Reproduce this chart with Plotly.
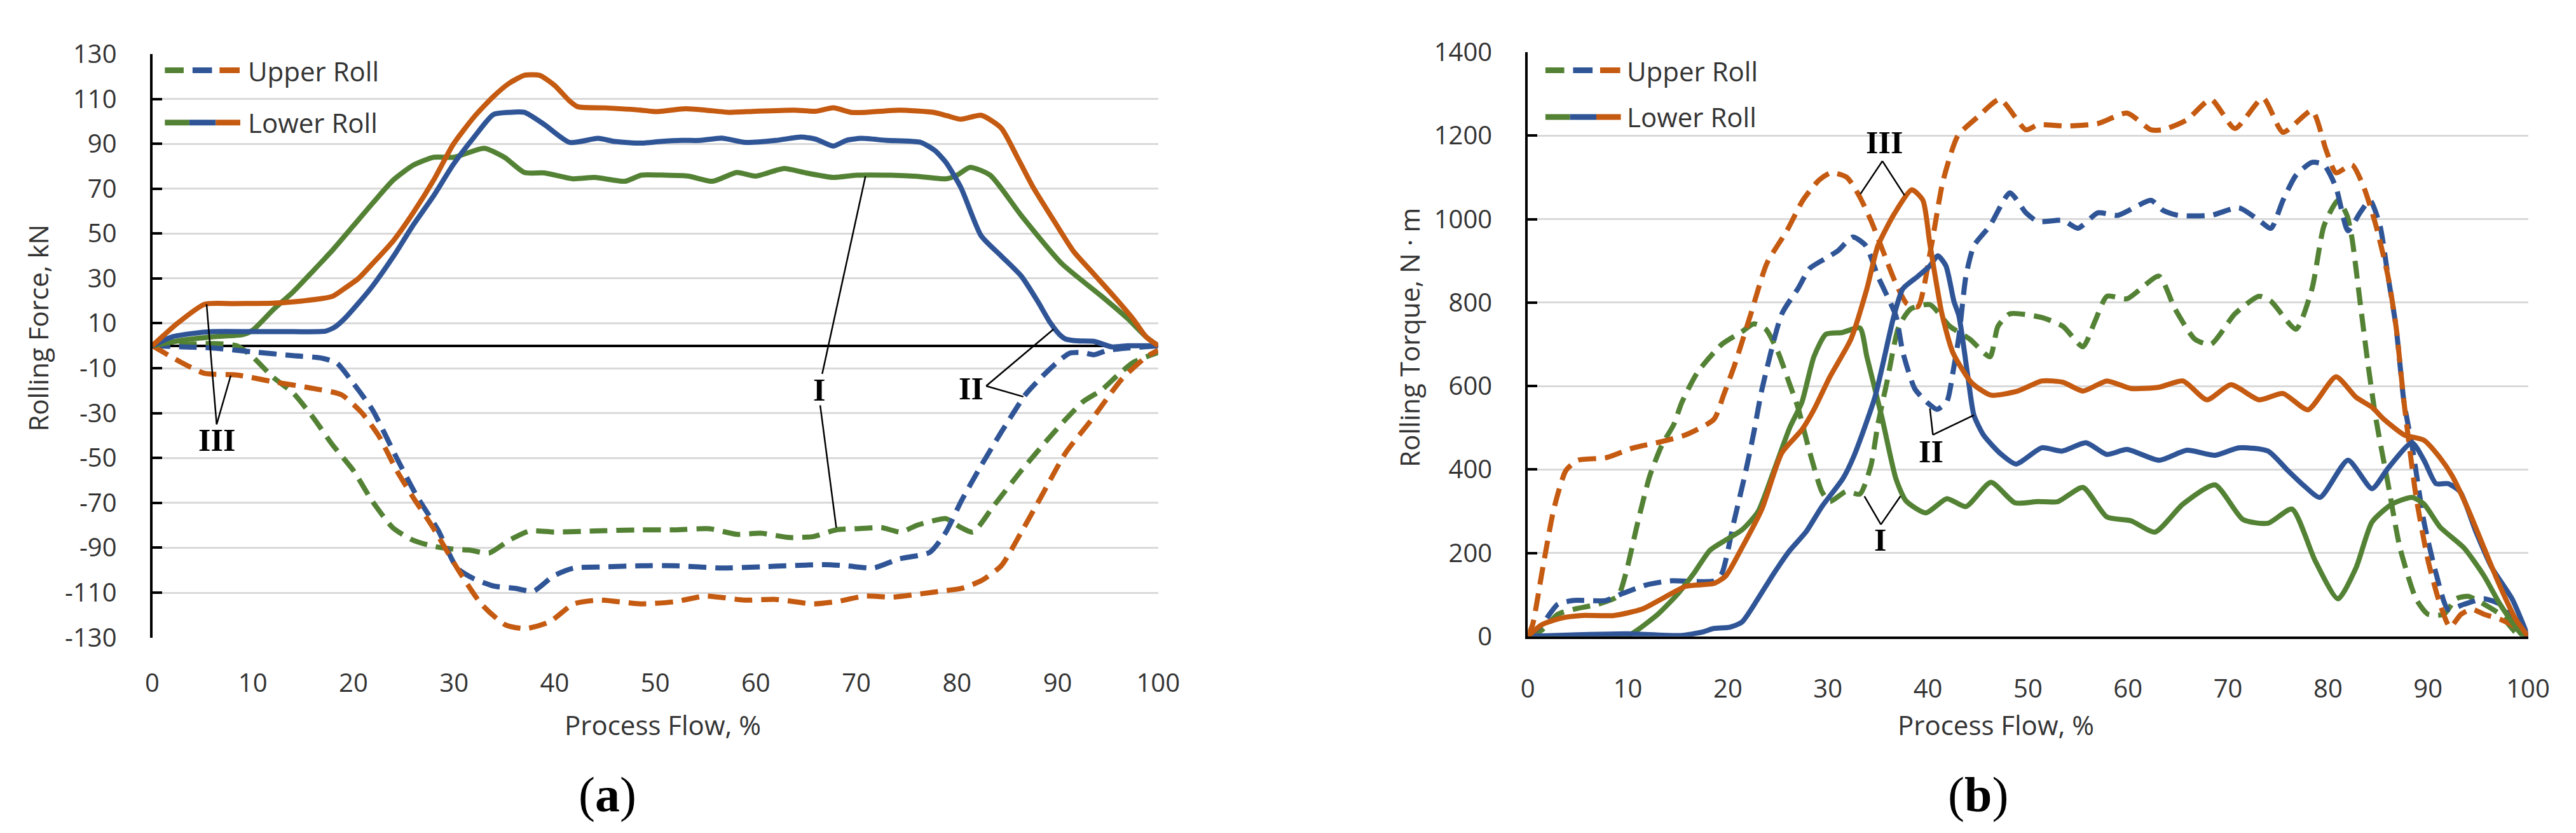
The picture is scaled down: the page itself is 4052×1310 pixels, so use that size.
import plotly.graph_objects as go

W, H = 4052, 1310

# ---------------- Panel (a): Rolling Force, kN ----------------
fa_up_green_x = [0, 3, 5.8, 8.4, 10, 12, 14, 16, 17.9, 20, 21.9, 23.9, 25.9, 27.9, 29.9, 31.5, 33.5, 35.5, 37.5, 40, 44, 48.6, 52, 55.4, 58.1, 60.5, 63.3, 65.7, 68, 70, 72.5, 74.4, 76, 77.6, 78.9, 80.4, 81.6, 83.6, 86.4, 89.2, 90.8, 92.5, 94.4, 96, 97.6, 100]
fa_up_green_y = [0, 0.5, 1, 0, -5, -14, -21, -32, -44, -55.6, -69.4, -81, -86.6, -89.3, -90.6, -91, -92.3, -86.6, -82.5, -83, -82.5, -82, -82, -81.5, -84, -83.5, -85.4, -85, -82, -81.5, -81, -83, -80, -78, -77, -81, -83, -71.6, -55.6, -40.8, -32.8, -25, -19.6, -13, -7.2, -3]

fa_up_blue_x = [0, 3, 6, 10, 14, 16.75, 18.35, 19.9, 21.9, 24.3, 26.3, 28.4, 30.3, 31.9, 33.9, 36, 37.9, 39.9, 41.9, 45, 48.6, 52, 56.6, 60.6, 63, 66.9, 69, 71.7, 74.2, 77.3, 78.9, 80.4, 82.4, 84.4, 85.2, 86.8, 88.4, 90, 91.2, 92.5, 93.6, 95, 97, 100]
fa_up_blue_y = [0, -0.5, -1, -2.7, -4.4, -5.4, -7.7, -16.2, -28.6, -50, -67, -82, -99, -103.6, -107, -108, -109.3, -102.5, -99, -98.5, -98, -98, -99, -98.5, -98, -97.5, -98, -99, -95, -92, -83, -69.4, -53.4, -38.5, -32.8, -21.8, -14, -7.2, -3.3, -3, -4, -2, -1, 0]

fa_up_orange_x = [0, 2.8, 5.2, 8.4, 12, 16, 18.8, 20.8, 22.5, 24.3, 26, 27.9, 30.3, 32.7, 35.1, 37.1, 39.5, 41.9, 44.4, 48.6, 52, 55, 58.9, 62, 65.7, 68, 70.9, 73.5, 76.4, 79, 80.5, 82.4, 84.4, 86.4, 88.4, 90.8, 93.4, 96.4, 98.8, 100]
fa_up_orange_y = [0, -7.2, -12.3, -13, -16, -19, -21.8, -29.7, -40, -55.6, -68, -80.9, -99, -115, -124.3, -126, -123, -115, -113.3, -115, -114, -111.5, -113.3, -113, -115, -114, -111.5, -112, -110.5, -109, -108, -104.7, -98, -83, -67, -47.7, -32.8, -14.8, -5, -2]

fa_low_green_x = [0, 3, 6, 9, 10, 12, 14, 16, 18, 20, 22, 24, 26, 28, 30, 33, 35, 37, 39, 41.8, 44, 47, 48.6, 51, 53.3, 55.7, 58.1, 60, 62.8, 65, 67.7, 70, 73.4, 76, 78.9, 80, 81.3, 83.3, 86.4, 90.4, 94.4, 97, 98.8, 100]
fa_low_green_y = [0, 2.5, 4, 5, 7, 16, 24, 33.4, 43, 53.5, 64, 74, 80.6, 84, 84, 88, 84, 77.2, 77, 74.4, 75, 73.3, 76, 76, 75.6, 73.3, 77.2, 75.6, 79, 77, 75, 76, 76, 75.5, 74.4, 76, 79.5, 76, 58, 36.7, 22, 12, 4, 0]

fa_low_blue_x = [0, 2, 4, 6, 10, 14, 17.2, 18.2, 19.1, 20.5, 21.9, 24, 25.9, 28, 29.9, 32, 33.9, 35.5, 37, 39, 41.5, 44.3, 46, 48.6, 50.5, 52.6, 54.5, 56.6, 59, 62, 64.5, 66, 67.7, 69, 70.5, 73, 76.4, 77.8, 78.9, 80.4, 82.4, 84.4, 86.4, 88, 89.2, 90.2, 90.8, 92, 93.6, 95.4, 97, 100]
fa_low_blue_y = [0, 4, 5.5, 6.3, 6.3, 6.3, 6.5, 8.5, 12, 19, 26.6, 40, 53.5, 67, 80.6, 93, 103, 104, 104, 98.5, 90.6, 92.4, 91, 90.3, 91, 91.5, 91.5, 92.5, 90.6, 91.5, 93, 92, 89, 91.5, 92.4, 91.5, 90.6, 87, 81.7, 70.4, 49, 40, 31, 20, 10.8, 5, 3, 2.2, 2, -0.5, 0, 0]

fa_low_orange_x = [0, 2.5, 5.2, 8, 12, 15, 17.9, 19.1, 20.5, 21.9, 24, 25.9, 28, 29.9, 32, 33.9, 35.5, 37, 38.5, 40, 41.5, 42.3, 45, 48.6, 50.1, 53, 55, 57.4, 60, 63.8, 66, 67.7, 69.5, 70.9, 74.2, 77.7, 79, 80.4, 82.4, 84.4, 86, 87.6, 89.6, 91.6, 93.6, 95.6, 97.5, 98.8, 100]
fa_low_orange_y = [0, 10, 18.5, 18.8, 19, 20, 22, 25.5, 30, 36.6, 47, 59, 74, 89.6, 102, 111, 117, 120.5, 120.5, 116, 109, 106.5, 106, 105, 104.3, 105.6, 105, 104, 104.5, 105, 104.5, 106, 104, 104, 105, 104, 102.5, 100.9, 102.7, 97, 84, 70.4, 56, 42, 32, 22, 12, 4, 0]

# ---------------- Panel (b): Rolling Torque, N·m ----------------
tb_up_green_x = [0, 1.4, 3, 4.6, 7, 9, 9.8, 11, 12.2, 13.4, 14.6, 15.4, 17, 19.4, 21.4, 22.6, 23.8, 25, 26.2, 27, 28.2, 29.4, 30.2, 31.8, 33.2, 34.3, 35, 35.9, 37.1, 38.3, 40.2, 42.2, 44.2, 46.2, 47, 48.2, 51.4, 53.5, 55.5, 56.7, 57.9, 59.9, 63.1, 64.7, 66.7, 68.3, 70.7, 73.1, 74.3, 76.8, 78.4, 79.6, 81, 81.9, 82.4, 83.2, 84, 84.8, 86, 87.2, 88.8, 90, 91.6, 92.8, 94, 95.6, 97.2, 98.8, 100]
tb_up_green_y = [0, 15, 53, 65, 77, 96, 151, 274, 385, 458, 508, 561, 634, 700, 730, 749, 736, 682, 603, 549, 440, 347, 323, 347, 341, 409, 508, 609, 743, 785, 795, 743, 712, 670, 743, 773, 764, 743, 694, 755, 815, 809, 863, 785, 712, 700, 773, 815, 803, 736, 833, 984, 1045, 1009, 954, 803, 652, 520, 366, 212, 90, 53, 53, 90, 96, 77, 53, 9, 0]

tb_up_blue_x = [0, 1.4, 3, 4.6, 7.8, 9.4, 11.8, 14.2, 18.6, 19.4, 20.6, 21.8, 22.6, 23.4, 25.4, 27, 28.2, 29.8, 31, 32.5, 33.8, 35, 36.8, 37.5, 38.7, 40, 40.9, 41.9, 42.5, 43.1, 43.8, 44.6, 46.2, 48.2, 49.8, 51, 53.5, 55, 57, 59, 62.3, 63.5, 65, 68.3, 71.1, 73.1, 74.3, 75.5, 76.8, 78.4, 79.6, 80.8, 82, 83.2, 84.2, 85.2, 86, 86.8, 87.6, 88.4, 89.6, 90.8, 92, 93.6, 95.6, 97.2, 98.8, 100]
tb_up_blue_y = [0, 28, 77, 86, 86, 102, 123, 133, 133, 151, 274, 397, 489, 591, 773, 833, 882, 906, 924, 957, 936, 863, 768, 680, 593, 559, 544, 563, 632, 719, 863, 936, 984, 1063, 1015, 994, 997, 978, 1015, 1009, 1045, 1021, 1009, 1009, 1027, 997, 978, 1045, 1105, 1136, 1130, 1076, 972, 1015, 1045, 984, 863, 743, 561, 458, 274, 151, 65, 77, 90, 77, 34, 0]

tb_up_orange_x = [0, 0.5, 1.4, 2.6, 3.8, 5, 7.8, 10.6, 13.4, 15.8, 18.6, 19.6, 20.7, 22.3, 23.9, 25.9, 27.5, 29.1, 30.3, 31.9, 33.1, 34.3, 35.5, 36.7, 37.9, 39, 40.3, 41.5, 43, 45, 47.2, 49.8, 51, 53.9, 57, 59.9, 62.3, 63.5, 65.9, 68.3, 70.7, 73.5, 75.5, 78.4, 79.8, 80.8, 82.4, 83.6, 84.8, 86, 86.8, 87.6, 88.8, 90, 91.2, 92.2, 93.3, 94.4, 95.6, 97.2, 98.8, 100]
tb_up_orange_y = [0, 30, 151, 305, 397, 422, 428, 452, 467, 483, 520, 580, 652, 773, 894, 972, 1045, 1093, 1111, 1100, 1057, 997, 924, 851, 797, 790, 930, 1090, 1200, 1245, 1287, 1214, 1226, 1223, 1229, 1254, 1214, 1214, 1238, 1287, 1217, 1290, 1208, 1260, 1166, 1111, 1130, 1075, 984, 863, 743, 561, 336, 182, 77, 22, 53, 65, 53, 41, 22, 0]

tb_low_green_x = [0, 5, 10, 11, 13, 15, 16.6, 18.2, 19.8, 21.4, 23, 24.6, 26.2, 27.4, 28.6, 29.8, 31.4, 33.2, 33.9, 35.4, 36.8, 37.8, 39.8, 41.9, 43.8, 46.3, 48.7, 51, 53, 55.5, 57.9, 60.3, 62.7, 65.5, 68.7, 71.5, 74, 76.4, 78.7, 81, 82.8, 84.4, 86.4, 88.4, 89.6, 91.2, 93.6, 95.6, 97.2, 99.4, 100]
tb_low_green_y = [0, 0, 2, 16, 53, 102, 151, 206, 231, 255, 298, 397, 501, 561, 670, 724, 728, 739, 670, 525, 378, 325, 296, 330, 311, 369, 320, 323, 323, 357, 286, 277, 250, 317, 363, 280, 271, 305, 182, 90, 164, 274, 317, 333, 317, 262, 212, 145, 77, 4, 0]

tb_low_blue_x = [0, 5, 10, 15.3, 17.4, 18.6, 20.2, 21.4, 23, 24.6, 26.2, 27.8, 29.4, 31.5, 32.6, 34.7, 36.6, 37.5, 39, 40.2, 41, 41.8, 42.6, 43.1, 44, 44.6, 45.6, 47.3, 48.8, 51.4, 53.4, 55.8, 57.9, 59.9, 63.1, 65.9, 68.7, 71.1, 74, 76, 77.6, 79.2, 82, 84.4, 86, 88.4, 89.6, 90.8, 92, 93.2, 94.8, 96.4, 98.4, 100]
tb_low_blue_y = [0, 4, 6, 2, 10, 19, 22, 34, 90, 151, 206, 250, 311, 378, 432, 573, 768, 833, 863, 888, 912, 888, 803, 768, 622, 530, 481, 437, 413, 452, 444, 464, 436, 448, 422, 446, 434, 452, 444, 397, 361, 333, 422, 354, 403, 464, 422, 366, 366, 347, 250, 164, 90, 0]

tb_low_orange_x = [0, 1.4, 3.4, 5.4, 8.6, 11.4, 13.4, 15.8, 18.6, 19.8, 21.4, 23.4, 25.4, 27.4, 28.6, 30.2, 32.3, 33.9, 35, 36.7, 38.4, 39.5, 40.2, 41.4, 42.5, 44.4, 46.3, 49, 51.4, 53.5, 55.5, 57.9, 60.3, 63.1, 65.5, 67.9, 70.3, 73.1, 75.5, 78, 80.8, 82.8, 84.4, 85.6, 87.6, 89.6, 91.2, 92.4, 94, 95.6, 97.2, 98.8, 100]
tb_low_orange_y = [0, 28, 44, 50, 50, 65, 90, 120, 127, 145, 212, 305, 440, 495, 543, 622, 712, 833, 936, 1015, 1070, 1045, 940, 773, 680, 607, 578, 588, 612, 609, 588, 612, 594, 597, 612, 567, 603, 567, 582, 543, 622, 573, 549, 520, 483, 470, 428, 385, 305, 212, 120, 40, 0]

# tick labels / texts
x_ticks = [0, 10, 20, 30, 40, 50, 60, 70, 80, 90, 100]
ya_ticks = list(range(-130, 131, 20))
yb_ticks = list(range(0, 1401, 200))
legend_labels = ["Upper Roll", "Lower Roll"]

# callout labels: (text, text_x, text_y, [segments])
callouts_a = [
    ("III", 6.4, -42, [((6.4, -35), (5.4, 18.5)), ((6.4, -35), (7.8, -13.3))]),
    ("I", 66.3, -19.5, [((66.6, -12.5), (70.9, 75.5)), ((66.4, -26.5), (68.0, -81))]),
    ("II", 81.4, -19.0, [((82.9, -17.9), (89.6, 7.4)), ((82.9, -17.9), (86.6, -22.7))]),
]
callouts_b = [
    ("III", 35.66, 1183, [((35.45, 1139), (33.25, 1060)), ((35.45, 1139), (37.66, 1057))]),
    ("I", 35.25, 231, [((35.3, 268), (33.65, 336)), ((35.3, 268), (37.26, 336))]),
    ("II", 40.3, 443, [((40.5, 483), (40.2, 546)), ((40.5, 483), (44.6, 530))]),
]

GREEN, BLUE, ORANGE = "#548235", "#2F5597", "#C55A11"
TXT = "#333333"
FONT = "Open Sans"
LW = 8
DASH = "28px,14px"


def px(x):
    return x / W


def py(y):
    return 1 - y / H


fig = go.Figure()

series_a = [
    (fa_up_green_x, fa_up_green_y, GREEN, DASH),
    (fa_up_blue_x, fa_up_blue_y, BLUE, DASH),
    (fa_up_orange_x, fa_up_orange_y, ORANGE, DASH),
    (fa_low_green_x, fa_low_green_y, GREEN, "solid"),
    (fa_low_blue_x, fa_low_blue_y, BLUE, "solid"),
    (fa_low_orange_x, fa_low_orange_y, ORANGE, "solid"),
]
series_b = [
    (tb_up_green_x, tb_up_green_y, GREEN, DASH),
    (tb_up_blue_x, tb_up_blue_y, BLUE, DASH),
    (tb_up_orange_x, tb_up_orange_y, ORANGE, DASH),
    (tb_low_green_x, tb_low_green_y, GREEN, "solid"),
    (tb_low_blue_x, tb_low_blue_y, BLUE, "solid"),
    (tb_low_orange_x, tb_low_orange_y, ORANGE, "solid"),
]
for xs, ys, c, d in series_a:
    fig.add_trace(go.Scatter(x=xs, y=ys, mode="lines", xaxis="x", yaxis="y",
                             line=dict(color=c, width=LW, dash=d, shape="spline", smoothing=0.6),
                             showlegend=False, hoverinfo="skip"))
for xs, ys, c, d in series_b:
    fig.add_trace(go.Scatter(x=xs, y=ys, mode="lines", xaxis="x2", yaxis="y2",
                             line=dict(color=c, width=LW, dash=d, shape="spline", smoothing=0.6),
                             showlegend=False, hoverinfo="skip"))

shapes = []
annotations = []

# callouts
for items, xr, yr in ((callouts_a, "x", "y"), (callouts_b, "x2", "y2")):
    for txt, tx, ty, segs in items:
        annotations.append(dict(text="<b>" + txt + "</b>", x=tx, y=ty, xref=xr, yref=yr, showarrow=False,
                                font=dict(family="Liberation Serif", size=50, color="black"),
                                xanchor="center", yanchor="middle"))
        for (x0, y0), (x1, y1) in segs:
            shapes.append(dict(type="line", xref=xr, yref=yr, x0=x0, y0=y0, x1=x1, y1=y1,
                               line=dict(color="black", width=2.5), layer="above"))

# custom legends (three-colour samples)
for ox, row2 in ((0, 162.7), (2196, 153.4)):
    r1 = 76.7
    for (a, b), c in zip([(243, 273), (287, 318), (330, 362)], [GREEN, BLUE, ORANGE]):
        shapes.append(dict(type="line", xref="paper", yref="paper", x0=px(a + ox), x1=px(b + ox),
                           y0=py(r1), y1=py(r1), line=dict(color=c, width=9)))
    for (a, b), c in zip([(243, 282), (282, 324), (324, 363)], [GREEN, BLUE, ORANGE]):
        shapes.append(dict(type="line", xref="paper", yref="paper", x0=px(a + ox), x1=px(b + ox),
                           y0=py(row2), y1=py(row2), line=dict(color=c, width=9)))
    for lab, yy in zip(legend_labels, (r1 + 1, row2)):
        annotations.append(dict(text=lab, x=px(373 + ox - (3 if ox else 0)), y=py(yy), xref="paper", yref="paper",
                                showarrow=False, xanchor="left", yanchor="middle",
                                font=dict(family=FONT, size=42, color=TXT)))

# axis titles and panel labels
annotations += [
    dict(text="Rolling Force, kN", x=px(40), y=py(500), textangle=-90),
    dict(text="Rolling Torque, N · m", x=px(2222), y=py(515), textangle=-90),
    dict(text="Process Flow, %", x=px(1035), y=py(1151)),
    dict(text="Process Flow, %", x=px(3156), y=py(1151)),
]
for a in annotations[-4:]:
    a.update(xref="paper", yref="paper", showarrow=False, xanchor="center", yanchor="middle",
             font=dict(family=FONT, size=42, color=TXT))
for lab, cx in (("a", 947), ("b", 3127)):
    annotations.append(dict(text="(<b>" + lab + "</b>)", x=px(cx), y=py(1266), xref="paper", yref="paper",
                            showarrow=False, xanchor="center", yanchor="middle",
                            font=dict(family="Liberation Serif", size=78, color="black")))

tickfont = dict(family=FONT, size=40, color=TXT)
common_x = dict(range=[0, 100], tickvals=x_ticks, ticktext=[str(v) for v in x_ticks],
                showgrid=False, zeroline=False, ticks="", tickfont=tickfont,
                ticklabelstandoff=44)
common_y = dict(showgrid=True, gridcolor="#d9d9d9", gridwidth=3,
                showline=True, linecolor="black", linewidth=4,
                ticks="inside", ticklen=15, tickwidth=4, tickcolor="black",
                tickfont=tickfont, ticklabelstandoff=44)

fig.update_layout(
    width=W, height=H,
    margin=dict(l=0, r=0, t=0, b=0),
    paper_bgcolor="white", plot_bgcolor="white",
    showlegend=False,
    xaxis=dict(domain=[px(223), px(1823)], anchor="y", showline=False, **common_x),
    yaxis=dict(domain=[py(1008), py(50)], anchor="x", range=[-130, 130],
               tickvals=ya_ticks, ticktext=[str(v) for v in ya_ticks],
               zeroline=True, zerolinecolor="black", zerolinewidth=4, **common_y),
    xaxis2=dict(domain=[px(2411), px(4002)], anchor="y2", showline=True,
                linecolor="black", linewidth=4, **common_x),
    yaxis2=dict(domain=[py(1006), py(47)], anchor="x2", range=[0, 1400],
                tickvals=yb_ticks, ticktext=[str(v) for v in yb_ticks],
                zeroline=False, **common_y),
    shapes=shapes,
    annotations=annotations,
)

fig.write_html("out.html")
